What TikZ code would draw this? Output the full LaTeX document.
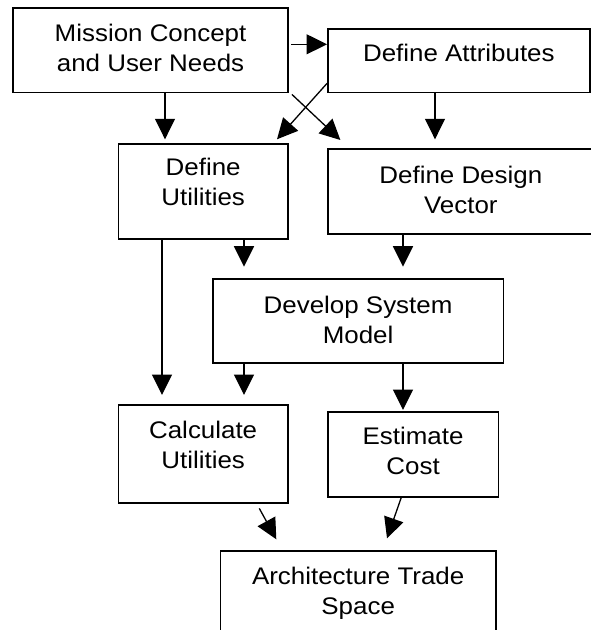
\documentclass[tikz,border=0pt]{standalone}
\usepackage{fontspec}
\setmainfont{Liberation Sans}[FakeStretch=1.08]
\usepackage{tikz}
\usetikzlibrary{arrows.meta,calc}

\begin{document}
\begin{tikzpicture}[x=1pt,y=-1pt,
  box/.style={draw, line width=1.7pt, inner sep=0pt, anchor=north west, align=center,
    font=\fontsize{24}{30}\selectfont},
  arr/.style={-{Triangle[length=20.5pt,width=20pt]}, line width=1.3pt}]

 \useasboundingbox (0,0) rectangle (591,630);

% Top row
 \node[box, minimum width=274.6pt, text height=63.4pt, text depth=21pt] (mission) at (12.4,7.3) {Mission Concept\\and User Needs};
 \node[box, minimum width=262pt, text height=32.4pt, text depth=31pt] (attr) at (327,28.3) {Define Attributes};

% Second row
 \node[box, minimum width=169.4pt, text height=61.7pt, text depth=33.3pt] (util) at (117.6,143.3) {Define\\Utilities};
 \node[box, minimum width=266pt, text height=64pt, text depth=21pt] (vector) at (327,148.3) {Define Design\\Vector};

% Model
 \node[box, minimum width=290.5pt, text height=64pt, text depth=20pt] (model) at (212,278.3) {Develop System\\Model};

% Third row
 \node[box, minimum width=169.4pt, text height=63.7pt, text depth=34pt] (calc) at (117.6,404.3) {Calculate\\Utilities};
 \node[box, minimum width=170.5pt, text height=63pt, text depth=22pt] (cost) at (327,411) {Estimate\\Cost};

% Trade space
 \node[box, minimum width=275.3pt, text height=64pt, text depth=30pt] (trade) at (219.7,550) {Architecture Trade\\Space};

% Arrows
 \draw [arr] ($(mission.north west)+(278.6,37)$) -- ($(attr.north west)+(0,16)$);
 \draw [arr] ($(mission.south west)+(152.6,0)$) -- ($(util.north west)+(47.4,-4)$);
 \draw [arr] ($(attr.south west)+(108,0)$) -- ($(vector.north west)+(108,-9)$);
 \draw [arr] ($(attr.south west)+(0,-10)$) -- ($(util.north west)+(159.4,-4)$);
 \draw [arr] ($(mission.south east)+(3.2,1)$) -- ($(vector.north west)+(13.4,-8.3)$);
 \draw [arr] ($(util.south west)+(126.4,0)$) -- ($(model.north west)+(32,-11.6)$);
 \draw [arr] ($(vector.south west)+(76,0)$) -- ($(model.north west)+(191,-11.6)$);
 \draw [arr] ($(util.south west)+(44.4,0)$) -- ($(calc.north west)+(44.4,-9.3)$);
 \draw [arr] ($(model.south west)+(32,0)$) -- ($(calc.north west)+(126.4,-9.3)$);
 \draw [arr] ($(model.south west)+(191,0)$) -- ($(cost.north west)+(76,-1)$);
 \draw [arr] ($(calc.south west)+(141.7,4.7)$) -- ($(trade.north west)+(56.6,-10.7)$);
 \draw [arr] ($(cost.south west)+(74.2,0)$) -- ($(trade.north west)+(167.3,-11.7)$);

\end{tikzpicture}
\end{document}
